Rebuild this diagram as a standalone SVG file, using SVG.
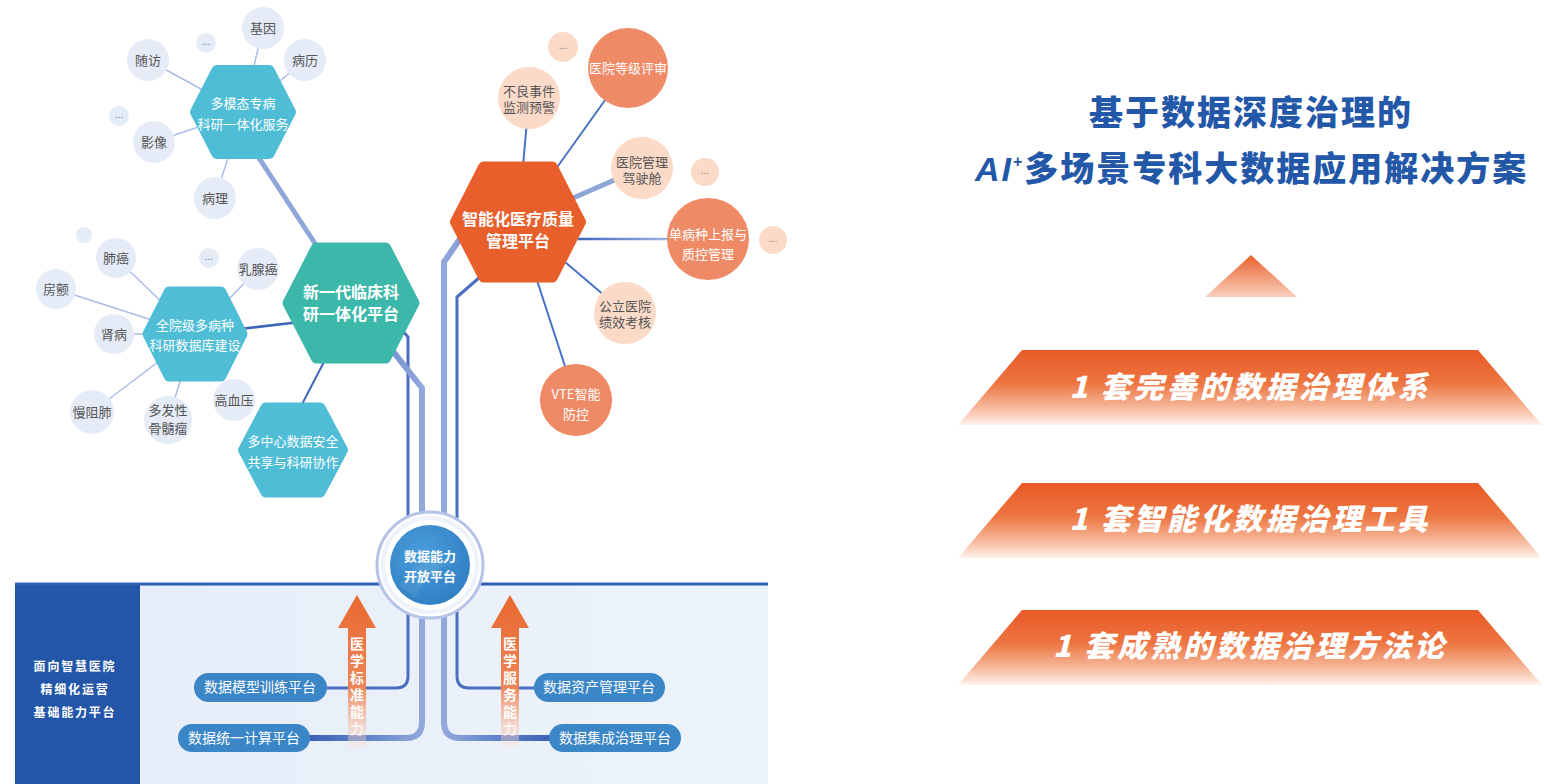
<svg xmlns="http://www.w3.org/2000/svg" width="1544" height="784" viewBox="0 0 1544 784">
<defs>
<style>
text{font-family:"Noto Sans CJK SC","Noto Sans",sans-serif;}
.hb{fill:#4fbdd6;stroke:#4fbdd6;stroke-width:10;stroke-linejoin:round;}
.hg{fill:#3cb8ab;stroke:#3cb8ab;stroke-width:10;stroke-linejoin:round;}
.ho{fill:#e85f2b;stroke:#e85f2b;stroke-width:10;stroke-linejoin:round;}
.cb{fill:#e5ecf7;}
.cp{fill:#fbdac8;}
.co{fill:#ee8a66;}
.ht{fill:#fff;font-size:13px;text-anchor:middle;}
.hT{fill:#fff;font-size:16px;font-weight:bold;text-anchor:middle;}
.ct{fill:#555;font-size:13px;text-anchor:middle;}
.cw{fill:#fff;font-size:13px;text-anchor:middle;}
.el{fill:#777;font-size:10px;text-anchor:middle;font-family:"Liberation Sans",sans-serif;}
.lb{stroke:#abbde6;stroke-width:1.5;fill:none;}
.ld{stroke:#4a72c4;stroke-width:2;fill:none;}
.thick{stroke:#8fa6d9;stroke-width:5;fill:none;stroke-linejoin:round;}
.pill{fill:#3a86c7;}
.pt{fill:#fff;font-size:14px;text-anchor:middle;}
.at{fill:#fff;font-size:14px;font-weight:bold;text-anchor:middle;}
.rt{fill:#fff;font-size:30px;font-weight:900;font-style:italic;text-anchor:middle;letter-spacing:3px;}
</style>
<linearGradient id="ribbon" x1="0" y1="0" x2="0" y2="1">
<stop offset="0" stop-color="#e85a26"/>
<stop offset="0.45" stop-color="#ed7642"/>
<stop offset="0.8" stop-color="#f7bfa4"/>
<stop offset="1" stop-color="#fff3ed"/>
</linearGradient>
<linearGradient id="tri" x1="0" y1="0" x2="0" y2="1">
<stop offset="0" stop-color="#e8612d"/>
<stop offset="1" stop-color="#fad0bd"/>
</linearGradient>
<linearGradient id="arrow" x1="0" y1="0" x2="0" y2="1">
<stop offset="0" stop-color="#e8692f"/>
<stop offset="0.6" stop-color="#ef8456"/>
<stop offset="1" stop-color="#fbe2d6" stop-opacity="0.3"/>
</linearGradient>
<linearGradient id="gL" gradientUnits="userSpaceOnUse" x1="310" y1="0" x2="423" y2="0">
<stop offset="0" stop-color="#3c62b5"/>
<stop offset="0.5" stop-color="#5f82cb"/>
<stop offset="1" stop-color="#93a9dc"/>
</linearGradient>
<linearGradient id="gR" gradientUnits="userSpaceOnUse" x1="550" y1="0" x2="444" y2="0">
<stop offset="0" stop-color="#3c62b5"/>
<stop offset="0.5" stop-color="#5f82cb"/>
<stop offset="1" stop-color="#93a9dc"/>
</linearGradient>
<linearGradient id="gS" gradientUnits="userSpaceOnUse" x1="578" y1="0" x2="668" y2="0">
<stop offset="0" stop-color="#3f67bc"/>
<stop offset="1" stop-color="#9db3e2"/>
</linearGradient>
<linearGradient id="panel" x1="0" y1="0" x2="1" y2="0">
<stop offset="0" stop-color="#e7eef9"/>
<stop offset="1" stop-color="#edf3fb"/>
</linearGradient>
<radialGradient id="core" cx="0.4" cy="0.35" r="0.7">
<stop offset="0" stop-color="#4a9ddb"/>
<stop offset="1" stop-color="#2f7fc3"/>
</radialGradient>
</defs>

<rect width="1544" height="784" fill="#fff"/>

<!-- bottom panel -->
<g id="base-panel">
<rect x="140" y="584" width="628" height="200" fill="url(#panel)"/>
<rect x="15" y="584" width="125" height="200" fill="#2356a8"/>
<line x1="15" y1="584" x2="768" y2="584" stroke="#2f5fb3" stroke-width="3"/>
<text x="75" y="671" fill="#fff" font-size="12" font-weight="bold" text-anchor="middle" letter-spacing="1.8">面向智慧医院</text>
<text x="75" y="694" fill="#fff" font-size="12" font-weight="bold" text-anchor="middle" letter-spacing="1.8">精细化运营</text>
<text x="75" y="717" fill="#fff" font-size="12" font-weight="bold" text-anchor="middle" letter-spacing="1.8">基础能力平台</text>
</g>

<!-- connectors -->
<g id="connectors">
<line class="lb" x1="243" y1="112" x2="148" y2="60"/>
<line class="lb" x1="243" y1="112" x2="263" y2="28"/>
<line class="lb" x1="243" y1="112" x2="305" y2="60"/>
<line class="lb" x1="243" y1="112" x2="154" y2="142"/>
<line class="lb" x1="243" y1="112" x2="215" y2="198"/>
<line class="lb" x1="195" y1="334" x2="116" y2="258"/>
<line class="lb" x1="195" y1="334" x2="56" y2="289"/>
<line class="lb" x1="195" y1="334" x2="114" y2="334"/>
<line class="lb" x1="195" y1="334" x2="258" y2="269"/>
<line class="lb" x1="195" y1="334" x2="92" y2="412"/>
<line class="lb" x1="195" y1="334" x2="168" y2="420"/>
<line class="thick" x1="259" y1="158" x2="318" y2="248"/>
<line stroke="#3f67b8" stroke-width="2.5" x1="240" y1="329" x2="300" y2="322"/>
<line stroke="#3f67b8" stroke-width="2" x1="325" y1="360" x2="300" y2="408"/>
<line class="ld" x1="518" y1="222" x2="529" y2="98"/>
<line class="ld" x1="518" y1="222" x2="628" y2="68"/>
<line class="thick" x1="518" y1="222" x2="642" y2="168"/>
<line stroke="url(#gS)" stroke-width="2.5" x1="578" y1="239" x2="668" y2="239"/>
<line class="ld" x1="518" y1="222" x2="625" y2="313"/>
<line class="ld" x1="518" y1="222" x2="576" y2="400"/>
<!-- trunk lines -->
<path d="M402,330 L408,337 V676 Q408,688 396,688 H326" stroke="#4a6fc0" stroke-width="3" fill="none"/>
<path d="M392,350 L422,388 V722 Q422,738 406,738 H308" stroke="url(#gL)" stroke-width="6" fill="none" stroke-linejoin="round"/>
<path d="M462,236 L444,262 V722 Q444,738 460,738 H550" stroke="url(#gR)" stroke-width="6" fill="none" stroke-linejoin="round"/>
<path d="M480,277 L457,297 V676 Q457,688 469,688 H535" stroke="#4a6fc0" stroke-width="3" fill="none"/>
</g>

<!-- top-left cluster -->
<g id="node-duomotai">
<polygon class="hb" points="195,112 216.6,70 269.4,70 291,112 269.4,154 216.6,154"/>
<text class="ht" x="243" y="108">多模态专病</text>
<text class="ht" x="243" y="129">科研一体化服务</text>
</g>
<g id="node-jiyin"><circle class="cb" cx="263" cy="28" r="21"/><text class="ct" x="263" y="33">基因</text></g>
<g id="node-bingli"><circle class="cb" cx="305" cy="60" r="21"/><text class="ct" x="305" y="65">病历</text></g>
<g id="node-suifang"><circle class="cb" cx="148" cy="60" r="21"/><text class="ct" x="148" y="65">随访</text></g>
<g id="node-dots1"><circle class="cb" cx="206" cy="43" r="10"/><text class="el" x="206" y="45">...</text></g>
<g id="node-dots2"><circle class="cb" cx="119" cy="116" r="10"/><text class="el" x="119" y="118">...</text></g>
<g id="node-yingxiang"><circle class="cb" cx="154" cy="142" r="21"/><text class="ct" x="154" y="147">影像</text></g>
<g id="node-bingli2"><circle class="cb" cx="215" cy="198" r="21"/><text class="ct" x="215" y="203">病理</text></g>

<!-- left cluster -->
<g id="node-quanyuan">
<polygon class="hb" points="147.5,334 168.9,291.5 221.1,291.5 242.5,334 221.1,376.5 168.9,376.5"/>
<text class="ht" x="195" y="330">全院级多病种</text>
<text class="ht" x="195" y="350">科研数据库建设</text>
</g>
<g id="node-tiny"><circle class="cb" cx="84" cy="235" r="8"/></g>
<g id="node-feiai"><circle class="cb" cx="116" cy="258" r="20"/><text class="ct" x="116" y="263">肺癌</text></g>
<g id="node-fangchan"><circle class="cb" cx="56" cy="289" r="20"/><text class="ct" x="56" y="294">房颤</text></g>
<g id="node-dots3"><circle class="cb" cx="209" cy="258" r="10"/><text class="el" x="209" y="260">...</text></g>
<g id="node-ruxian"><circle class="cb" cx="258" cy="269" r="21"/><text class="ct" x="258" y="274">乳腺癌</text></g>
<g id="node-shenbing"><circle class="cb" cx="114" cy="334" r="20"/><text class="ct" x="114" y="339">肾病</text></g>
<g id="node-manzufei"><circle class="cb" cx="92" cy="412" r="22"/><text class="ct" x="92" y="417">慢阻肺</text></g>
<g id="node-duofaxing"><circle class="cb" cx="168" cy="420" r="24"/><text class="ct" x="168" y="415">多发性</text><text class="ct" x="168" y="433">骨髓瘤</text></g>
<g id="node-gaoxueya"><circle class="cb" cx="234" cy="400" r="21"/><text class="ct" x="234" y="405">高血压</text></g>

<g id="node-xinyidai">
<polygon class="hg" points="287.5,303 316.1,247.5 385.9,247.5 414.5,303 385.9,358.5 316.1,358.5"/>
<text class="hT" x="351" y="298" font-weight="normal">新一代临床科</text>
<text class="hT" x="351" y="320" font-weight="normal">研一体化平台</text>
</g>
<g id="node-duozhongxin">
<polygon class="hb" points="243,450 265.5,407.5 320.5,407.5 343,450 320.5,492.5 265.5,492.5"/>
<text class="ht" x="293" y="446">多中心数据安全</text>
<text class="ht" x="293" y="467">共享与科研协作</text>
</g>

<!-- orange cluster -->
<g id="node-zhinenghua">
<polygon class="ho" points="455,222 483.35,166.5 552.65,166.5 581,222 552.65,277.5 483.35,277.5"/>
<text class="hT" x="518" y="225">智能化医疗质量</text>
<text class="hT" x="518" y="247">管理平台</text>
</g>
<g id="node-dots4"><circle class="cp" cx="563" cy="47" r="15"/><text class="el" x="563" y="49">...</text></g>
<g id="node-dengji"><circle class="co" cx="628" cy="68" r="40"/><text class="cw" x="628" y="73">医院等级评审</text></g>
<g id="node-buliang"><circle class="cp" cx="529" cy="98" r="31"/><text class="ct" x="529" y="96">不良事件</text><text class="ct" x="529" y="112">监测预警</text></g>
<g id="node-jiashicang"><circle class="cp" cx="642" cy="168" r="31"/><text class="ct" x="642" y="167">医院管理</text><text class="ct" x="642" y="183">驾驶舱</text></g>
<g id="node-dots5"><circle class="cp" cx="705" cy="172" r="14"/><text class="el" x="705" y="174">...</text></g>
<g id="node-danbing"><circle class="co" cx="708" cy="239" r="41"/><text class="cw" x="708" y="239">单病种上报与</text><text class="cw" x="708" y="259">质控管理</text></g>
<g id="node-dots6"><circle class="cp" cx="773" cy="240" r="14"/><text class="el" x="773" y="242">...</text></g>
<g id="node-jixiao"><circle class="cp" cx="625" cy="313" r="31"/><text class="ct" x="625" y="311">公立医院</text><text class="ct" x="625" y="327">绩效考核</text></g>
<g id="node-vte"><circle class="co" cx="576" cy="400" r="36"/><text class="cw" x="576" y="399">VTE智能</text><text class="cw" x="576" y="419">防控</text></g>

<!-- center hub -->
<g id="node-hub">
<circle cx="430" cy="565" r="53" fill="#fff" stroke="#b5c3e8" stroke-width="3"/>
<circle cx="430" cy="565" r="47" fill="none" stroke="#eef2fb" stroke-width="4"/>
<circle cx="430" cy="565" r="40" fill="url(#core)"/>
<path d="M400,585 Q420,552 462,560 Q430,566 415,598 Z" fill="#fff" opacity="0.08"/>
<text x="430" y="561" fill="#fff" font-size="13" font-weight="bold" text-anchor="middle">数据能力</text>
<text x="430" y="581" fill="#fff" font-size="13" font-weight="bold" text-anchor="middle">开放平台</text>
</g>

<!-- arrows -->
<g id="arrow-biaozhun">
<polygon points="357,595 376,628 366,628 366,748 348,748 348,628 338,628" fill="url(#arrow)"/>
<text class="at" x="357" y="649">医</text>
<text class="at" x="357" y="666">学</text>
<text class="at" x="357" y="683">标</text>
<text class="at" x="357" y="700">准</text>
<text class="at" x="357" y="717">能</text>
<text class="at" x="357" y="734" opacity="0.7">力</text>
</g>
<g id="arrow-fuwu">
<polygon points="510,595 529,628 519,628 519,748 501,748 501,628 491,628" fill="url(#arrow)"/>
<text class="at" x="510" y="649">医</text>
<text class="at" x="510" y="666">学</text>
<text class="at" x="510" y="683">服</text>
<text class="at" x="510" y="700">务</text>
<text class="at" x="510" y="717">能</text>
<text class="at" x="510" y="734" opacity="0.7">力</text>
</g>

<!-- platform pills -->
<g id="node-moxing"><rect class="pill" x="194" y="673" width="133" height="29" rx="14.5"/><text class="pt" x="260" y="692">数据模型训练平台</text></g>
<g id="node-jisuan"><rect class="pill" x="178" y="724" width="132" height="28" rx="14"/><text class="pt" x="244" y="743">数据统一计算平台</text></g>
<g id="node-zichan"><rect class="pill" x="534" y="673" width="131" height="29" rx="14.5"/><text class="pt" x="599" y="692">数据资产管理平台</text></g>
<g id="node-jicheng"><rect class="pill" x="549" y="724" width="132" height="28" rx="14"/><text class="pt" x="615" y="743">数据集成治理平台</text></g>

<!-- right side -->
<g id="title">
<text x="1251" y="125" fill="#2357a8" font-size="34" font-weight="900" text-anchor="middle" letter-spacing="2">基于数据深度治理的</text>
<text x="975" y="181" fill="#2357a8" font-size="34" font-weight="900" letter-spacing="2"><tspan font-style="italic" font-family="Liberation Sans, sans-serif" font-weight="bold">AI</tspan><tspan font-size="16" dy="-14" font-family="Liberation Sans, sans-serif">+</tspan><tspan dy="14">多场景专科大数据应用解决方案</tspan></text>
</g>
<g id="triangle"><polygon points="1251,255 1297,297 1205,297" fill="url(#tri)"/></g>
<g id="ribbon-1">
<polygon points="1022,350 1478,350 1542,425 958,425" fill="url(#ribbon)"/>
<text class="rt" x="1250" y="398">1 套完善的数据治理体系</text>
</g>
<g id="ribbon-2">
<polygon points="1022,483 1478,483 1542,558 958,558" fill="url(#ribbon)"/>
<text class="rt" x="1250" y="530">1 套智能化数据治理工具</text>
</g>
<g id="ribbon-3">
<polygon points="1022,610 1478,610 1542,685 958,685" fill="url(#ribbon)"/>
<text class="rt" x="1250" y="657">1 套成熟的数据治理方法论</text>
</g>
</svg>
